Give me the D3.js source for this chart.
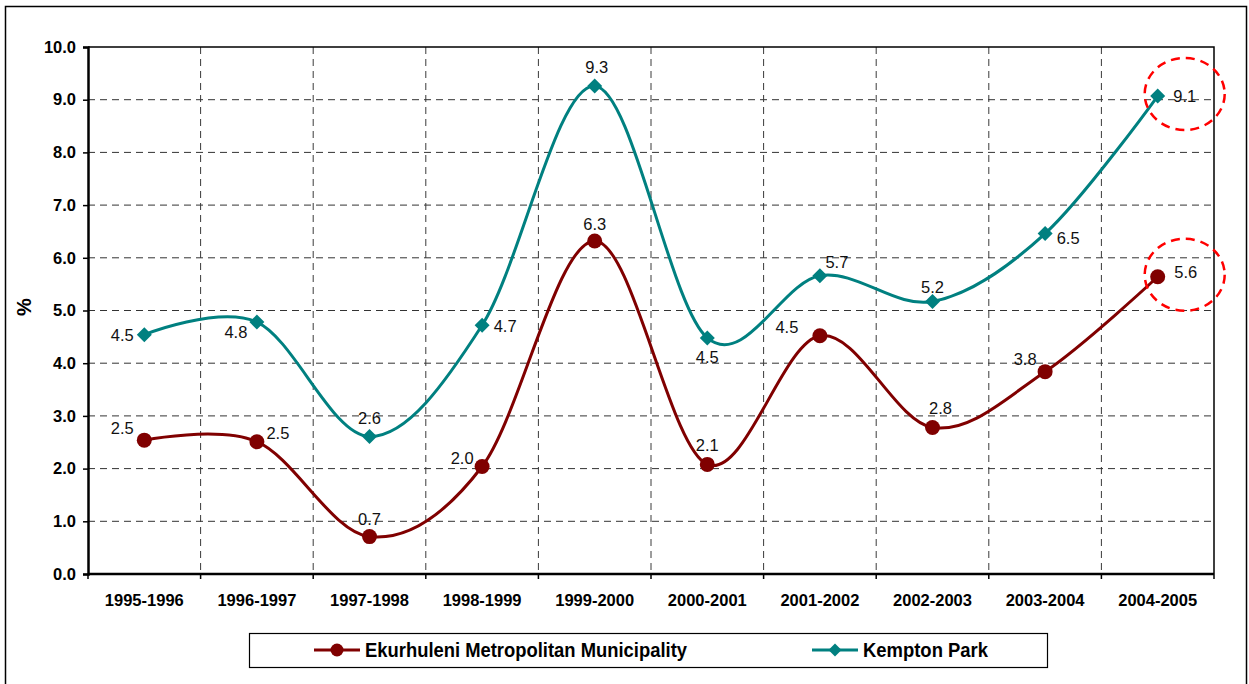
<!DOCTYPE html>
<html>
<head>
<meta charset="utf-8">
<script src="https://cdn.jsdelivr.net/npm/d3@7"></script>
<style>
  body { margin: 0; background: #fff; }
  svg { display: block; font-family: "Liberation Sans", Arial, sans-serif; }
</style>
</head>
<body>
<svg id="chart" width="1249" height="684"></svg>
<script>
let years = ["1995-1996", "1996-1997", "1997-1998", "1998-1999", "1999-2000",
             "2000-2001", "2001-2002", "2002-2003", "2003-2004", "2004-2005"];
let ekurhuleni = [2.54, 2.51, 0.71, 2.04, 6.32, 2.08, 4.52, 2.78, 3.84, 5.64];
let kempton = [4.54, 4.78, 2.61, 4.72, 9.26, 4.48, 5.66, 5.17, 6.46, 9.07];
let yTicks = [0, 1, 2, 3, 4, 5, 6, 7, 8, 9, 10];
let seriesNames = ["Ekurhuleni Metropolitan Municipality", "Kempton Park"];

// where each value label sits relative to its point (dx, dy)
let ekLabelOffset = [[-22, -12], [21, -9], [0, -18], [-20, -8], [0, -17],
                     [0, -19], [-33, -9], [8, -19], [-20, -13], [28, -5]];
let kpLabelOffset = [[-22, 0], [-21, 10], [0, -18], [23, 1], [2, -19],
                     [0, 19], [17, -14], [0, -14], [23, 5], [27, 0]];

let margin = {left: 88, right: 1214, top: 47, bottom: 574};
let red = "#800000";
let teal = "#008080";

let svg = d3.select("#chart");

// outer frame
svg.append("rect")
    .attr("x", 5.5).attr("y", 6.5)
    .attr("width", 1241).attr("height", 690)
    .attr("fill", "none")
    .attr("stroke", "#000")
    .attr("stroke-width", 1.5);

let x = d3.scaleBand()
    .domain(years)
    .range([margin.left, margin.right]);
let y = d3.scaleLinear()
    .domain([0, 10])
    .range([margin.bottom, margin.top]);

let cx = (d) => x(d) + x.bandwidth() / 2;

// horizontal grid
svg.append("g")
    .selectAll("line")
    .data(yTicks.slice(1, -1))
    .enter()
    .append("line")
    .attr("x1", margin.left).attr("x2", margin.right)
    .attr("y1", (d) => y(d)).attr("y2", (d) => y(d))
    .attr("stroke", "#333")
    .attr("stroke-dasharray", "7,5");

// vertical grid on band edges
svg.append("g")
    .selectAll("line")
    .data(years.slice(1))
    .enter()
    .append("line")
    .attr("x1", (d) => x(d)).attr("x2", (d) => x(d))
    .attr("y1", margin.top).attr("y2", margin.bottom)
    .attr("stroke", "#3a3a3a")
    .attr("stroke-dasharray", "7,5");

// plot border (top & right)
svg.append("path")
    .attr("d", "M" + margin.left + "," + margin.top + "H" + margin.right + "V" + margin.bottom)
    .attr("fill", "none")
    .attr("stroke", "#000")
    .attr("stroke-width", 1.5);

// y axis
let yAxis = svg.append("g")
    .attr("transform", "translate(" + margin.left + ",0)")
    .call(d3.axisLeft(y).tickValues(yTicks).tickSize(5).tickPadding(7)
        .tickFormat(d3.format(".1f")));
yAxis.select(".domain").attr("stroke-width", 2.5);
yAxis.selectAll("line").attr("stroke-width", 1.5);
yAxis.selectAll("text")
    .attr("font-size", 16.5)
    .attr("font-weight", "bold")
    .attr("font-family", "Liberation Sans, Arial, sans-serif")
    .attr("fill", "#000");

// x axis: ticks on band edges, labels in band centres
let xAxis = svg.append("g")
    .attr("transform", "translate(0," + margin.bottom + ")");
xAxis.append("line")
    .attr("x1", margin.left).attr("x2", margin.right)
    .attr("stroke", "#000").attr("stroke-width", 2.5);
xAxis.selectAll(".tk")
    .data(years.concat(["end"]))
    .enter()
    .append("line")
    .attr("x1", (d, i) => i < years.length ? x(d) : margin.right)
    .attr("x2", (d, i) => i < years.length ? x(d) : margin.right)
    .attr("y1", 0).attr("y2", 5)
    .attr("stroke", "#000").attr("stroke-width", 1.5);
xAxis.selectAll("text")
    .data(years)
    .enter()
    .append("text")
    .attr("x", (d) => cx(d))
    .attr("y", 32)
    .attr("text-anchor", "middle")
    .attr("font-size", 16.5)
    .attr("font-weight", "bold")
    .text((d) => d);

// y title
svg.append("text")
    .attr("transform", "translate(31,307) rotate(-90)")
    .attr("text-anchor", "middle")
    .attr("font-size", 20)
    .attr("font-weight", "bold")
    .text("%");

let line = d3.line()
    .x((d, i) => cx(years[i]))
    .y((d) => y(d))
    .curve(d3.curveCardinal.tension(0));

let diamond = (px, py, r) => "M" + px + "," + (py - r) + "L" + (px + r) + "," + py +
    "L" + px + "," + (py + r) + "L" + (px - r) + "," + py + "Z";

// Kempton Park
svg.append("path")
    .attr("d", line(kempton))
    .attr("fill", "none")
    .attr("stroke", teal)
    .attr("stroke-width", 3);
svg.append("g")
    .selectAll("path")
    .data(kempton)
    .enter()
    .append("path")
    .attr("d", (d, i) => diamond(cx(years[i]), y(d), 7.5))
    .attr("fill", teal);

// Ekurhuleni
svg.append("path")
    .attr("d", line(ekurhuleni))
    .attr("fill", "none")
    .attr("stroke", red)
    .attr("stroke-width", 3);
svg.append("g")
    .selectAll("circle")
    .data(ekurhuleni)
    .enter()
    .append("circle")
    .attr("cx", (d, i) => cx(years[i]))
    .attr("cy", (d) => y(d))
    .attr("r", 7.5)
    .attr("fill", red);

// value labels
let addLabels = (values, offsets) => {
    svg.append("g")
        .selectAll("text")
        .data(values)
        .enter()
        .append("text")
        .attr("x", (d, i) => cx(years[i]) + offsets[i][0])
        .attr("y", (d, i) => y(d) + offsets[i][1])
        .attr("dy", "0.36em")
        .attr("text-anchor", "middle")
        .attr("font-size", 16.5)
        .attr("fill", "#111")
        .text((d) => d3.format(".1f")(d));
};
addLabels(ekurhuleni, ekLabelOffset);
addLabels(kempton, kpLabelOffset);

// red dashed highlight rings round the last values
[kempton, ekurhuleni].forEach((s) => {
    let last = s.length - 1;
    svg.append("ellipse")
        .attr("cx", cx(years[last]) + 27)
        .attr("cy", y(s[last]) - 2)
        .attr("rx", 40)
        .attr("ry", 36)
        .attr("fill", "none")
        .attr("stroke", "#ff0000")
        .attr("stroke-width", 2.5)
        .attr("stroke-dasharray", "9,6");
});

// legend
let legend = svg.append("g");
legend.append("rect")
    .attr("x", 249.5).attr("y", 633.5)
    .attr("width", 798).attr("height", 34)
    .attr("fill", "#fff")
    .attr("stroke", "#000")
    .attr("stroke-width", 1.2);
let legendItems = [
    {name: seriesNames[0], color: red, x0: 314, shape: "circle", w: 322},
    {name: seriesNames[1], color: teal, x0: 812, shape: "diamond", w: 125}
];
legendItems.forEach((it) => {
    let ly = 650;
    legend.append("line")
        .attr("x1", it.x0).attr("x2", it.x0 + 46)
        .attr("y1", ly).attr("y2", ly)
        .attr("stroke", it.color).attr("stroke-width", 3);
    if (it.shape === "circle") {
        legend.append("circle")
            .attr("cx", it.x0 + 23).attr("cy", ly).attr("r", 6.5)
            .attr("fill", it.color);
    } else {
        legend.append("path")
            .attr("d", diamond(it.x0 + 23, ly, 6.5))
            .attr("fill", it.color);
    }
    legend.append("text")
        .attr("x", it.x0 + 51)
        .attr("y", ly)
        .attr("dy", "0.36em")
        .attr("font-size", 19.5)
        .attr("font-weight", "bold")
        .attr("textLength", it.w)
        .attr("lengthAdjust", "spacingAndGlyphs")
        .text(it.name);
});
</script>
</body>
</html>
